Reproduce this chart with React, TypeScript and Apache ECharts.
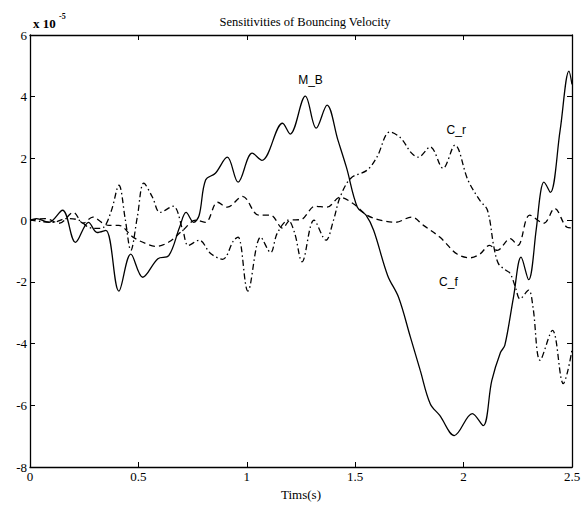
import React, { useEffect, useRef } from "react";
import * as echarts from "echarts";

const xTickValues = [0, 0.5, 1, 1.5, 2, 2.5];
const yTickValues = [-8, -6, -4, -2, 0, 2, 4, 6];

const mbTime = [0, 0.03, 0.087, 0.15, 0.21, 0.27, 0.31, 0.35, 0.41, 0.465, 0.52, 0.59, 0.64, 0.69, 0.72, 0.755, 0.78, 0.81, 0.855, 0.91, 0.96, 1.025, 1.07, 1.165, 1.2, 1.27, 1.32, 1.37, 1.42, 1.46, 1.51, 1.55, 1.585, 1.65, 1.7, 1.755, 1.8, 1.846, 1.89, 1.957, 2.04, 2.09, 2.13, 2.17, 2.19, 2.23, 2.265, 2.3, 2.335, 2.355, 2.37, 2.4, 2.445, 2.486, 2.5];
const mbValue = [0, 0.05, -0.07, 0.32, -0.72, -0.07, -0.4, -0.33, -2.3, -1.1, -1.85, -1.25, -1.15, -0.23, 0.25, -0.07, 0.15, 1.3, 1.52, 2.04, 1.23, 2.17, 1.94, 3.14, 2.79, 4.02, 2.98, 3.73, 2.6, 1.7, 0.42, 0.16, -0.33, -1.8, -2.5, -3.8, -4.87, -5.95, -6.33, -6.98, -6.27, -6.66, -5.2, -4.29, -4.06, -2.5, -1.2, -1.93, -0.3, 0.9, 1.23, 0.9, 2.9, 4.83, 4.4];

const cfTime = [0, 0.07, 0.135, 0.2, 0.245, 0.29, 0.33, 0.365, 0.41, 0.475, 0.535, 0.58, 0.64, 0.705, 0.765, 0.81, 0.865, 0.91, 0.98, 1.055, 1.11, 1.165, 1.2, 1.25, 1.315, 1.37, 1.43, 1.49, 1.555, 1.615, 1.685, 1.76, 1.815, 1.89, 1.97, 2.03, 2.075, 2.12, 2.155, 2.215, 2.25, 2.305, 2.37, 2.42, 2.477, 2.5];
const cfValue = [0, 0.05, -0.1, 0.25, -0.1, 0.1, -0.07, -0.17, -0.17, -0.55, -0.76, -0.85, -0.71, -0.33, 0, -0.07, 0.58, 0.42, 0.77, 0.16, 0.16, -0.26, 0, 0.02, 0.45, 0.42, 0.74, 0.54, 0.16, 0, -0.07, 0.1, -0.17, -0.55, -1.1, -1.22, -1.1, -0.82, -0.98, -0.6, -0.82, 0.16, -0.1, 0.38, -0.23, -0.25];

const crTime = [0, 0.106, 0.17, 0.225, 0.27, 0.31, 0.34, 0.375, 0.41, 0.44, 0.465, 0.495, 0.525, 0.565, 0.6, 0.66, 0.705, 0.73, 0.78, 0.833, 0.888, 0.94, 0.96, 1.005, 1.064, 1.11, 1.14, 1.19, 1.22, 1.255, 1.31, 1.365, 1.4, 1.43, 1.48, 1.555, 1.6, 1.66, 1.71, 1.76, 1.79, 1.846, 1.905, 1.96, 2.02, 2.075, 2.11, 2.14, 2.16, 2.19, 2.215, 2.24, 2.26, 2.3, 2.32, 2.353, 2.41, 2.46, 2.48, 2.5];
const crValue = [0, -0.07, 0.05, 0, -0.23, -0.27, -0.23, 0.3, 1.13, 0, -0.98, 0.1, 1.2, 0.74, 0.25, 0.45, -0.33, -0.82, -0.65, -1.08, -1.27, -0.65, -0.55, -2.3, -0.55, -1.05, -0.43, 0, -0.4, -1.35, 0, -0.65, 0, 0.74, 1.36, 1.62, 2.04, 2.86, 2.66, 2.17, 2.04, 2.37, 1.68, 2.43, 1.3, 0.64, 0.32, -0.88, -1.4, -1.6, -1.73, -2.2, -2.55, -2.27, -2.82, -4.54, -3.57, -5.3, -4.9, -4.2];

const seriesNames = ["M_B", "C_f", "C_r"];
const labelCoords = [
  [1.294, 4.54],
  [1.93, -2.02],
  [1.966, 2.92],
];

const serif = "'Liberation Serif', 'DejaVu Serif', serif";
const sans = "'Liberation Sans', Arial, sans-serif";

function pairs(t: number[], v: number[]) {
  return t.map((x, i) => [x, v[i]]);
}

export default function App() {
  const ref = useRef<HTMLDivElement>(null);
  useEffect(() => {
    document.body.style.margin = "0";
    const chart = echarts.init(ref.current!, null, { renderer: "svg" });
    const axisLine = { show: true, onZero: false, lineStyle: { color: "#000", width: 1.3 } };
    const tick = { show: true, inside: true, length: 5, lineStyle: { color: "#000", width: 1 } };
    const tickLabel = { color: "#000", fontFamily: serif, fontSize: 13 };
    const lineDefs = [
      { t: mbTime, v: mbValue, type: "solid" as any },
      { t: cfTime, v: cfValue, type: [6, 4] as any },
      { t: crTime, v: crValue, type: [6, 3, 1.5, 3] as any },
    ];
    chart.setOption({
      animation: false,
      backgroundColor: "#fff",
      grid: { left: 30, right: 16, top: 35, bottom: 39 },
      xAxis: [
        {
          type: "value",
          min: 0,
          max: 2.5,
          interval: 0.5,
          position: "bottom",
          axisLine,
          axisTick: tick,
          splitLine: { show: false },
          axisLabel: { ...tickLabel, margin: 3, formatter: (v: number) => (xTickValues.includes(v) ? String(v) : "") },
          name: "Tims(s)",
          nameLocation: "middle",
          nameGap: 21,
          nameTextStyle: { color: "#000", fontFamily: serif, fontSize: 13 },
        },
        {
          type: "value",
          min: 0,
          max: 2.5,
          interval: 0.5,
          position: "top",
          axisLine,
          axisTick: tick,
          splitLine: { show: false },
          axisLabel: { show: false },
        },
      ],
      yAxis: [
        {
          type: "value",
          min: -8,
          max: 6,
          interval: 2,
          position: "left",
          axisLine,
          axisTick: tick,
          splitLine: { show: false },
          axisLabel: { ...tickLabel, margin: 3, formatter: (v: number) => (yTickValues.includes(v) ? String(v) : "") },
        },
        {
          type: "value",
          min: -8,
          max: 6,
          interval: 2,
          position: "right",
          axisLine,
          axisTick: tick,
          splitLine: { show: false },
          axisLabel: { show: false },
        },
      ],
      graphic: [
        {
          type: "text",
          x: 305,
          y: 22,
          style: {
            text: "Sensitivities of Bouncing Velocity",
            textAlign: "center",
            textVerticalAlign: "middle",
            font: `12.5px ${serif}`,
            fill: "#000",
          },
        },
        {
          type: "text",
          x: 33,
          y: 23,
          style: { text: "x 10", textAlign: "left", textVerticalAlign: "middle", font: `bold 13px ${serif}`, fill: "#000" },
        },
        {
          type: "text",
          x: 59,
          y: 16,
          style: { text: "-5", textAlign: "left", textVerticalAlign: "middle", font: `bold 8px ${serif}`, fill: "#000" },
        },
      ],
      series: lineDefs.map((d, i) => ({
        name: seriesNames[i],
        type: "line",
        xAxisIndex: 0,
        yAxisIndex: 0,
        data: pairs(d.t, d.v),
        showSymbol: false,
        symbol: "none",
        smooth: 0.35,
        lineStyle: { color: "#000", width: 1.3, type: d.type },
        markPoint: {
          silent: true,
          symbol: "circle",
          symbolSize: 0,
          label: {
            show: true,
            position: "inside",
            formatter: seriesNames[i],
            color: "#000",
            fontFamily: sans,
            fontSize: 12,
          },
          data: [{ coord: labelCoords[i] }],
        },
      })),
    });
    return () => chart.dispose();
  }, []);
  return <div ref={ref} style={{ width: 588, height: 506 }} />;
}
